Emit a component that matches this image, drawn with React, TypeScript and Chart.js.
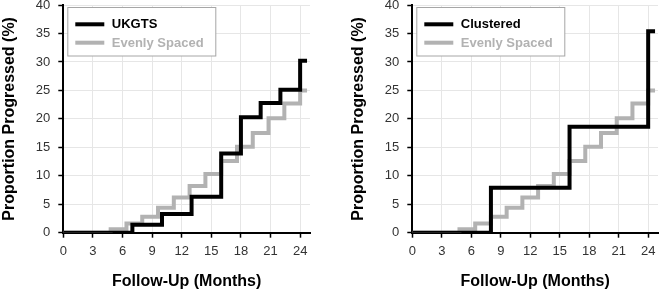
import React, { useEffect, useRef } from "react";
import { Chart, registerables } from "chart.js";

Chart.register(...registerables);

// ---- Data ----
const xTickStep = 3;
const xMax = 25;
const yMax = 40;
const yTickStep = 5;

// Left panel: UKGTS schedule (time in months, cumulative % progressed)
const ukgtsTimes = [0, 7, 10, 13, 16, 18, 20, 22, 24, 24.7];
const ukgtsValues = [0, 1.4, 3.3, 6.3, 13.9, 20.3, 22.8, 25.1, 30.2, 30.2];

// Right panel: Clustered schedule
const clusteredTimes = [0, 8, 16, 24, 24.7];
const clusteredValues = [0, 7.9, 18.6, 35.4, 35.4];

// Both panels: Evenly spaced schedule
const evenTimes = [0, 4.8, 6.4, 8.0, 9.6, 11.2, 12.8, 14.4, 16.0, 17.6, 19.2, 20.8, 22.4, 24.0, 24.7];
const evenValues = [0, 0.6, 1.6, 2.8, 4.4, 6.2, 8.2, 10.3, 12.6, 15.1, 17.5, 20.1, 22.7, 25.0, 25.0];

const xTitle = "Follow-Up (Months)";
const yTitle = "Proportion Progressed (%)";

const BLACK = "#000000";
const GREY = "#b2b2b2";
const FONT = "'Liberation Sans', Arial, Helvetica, sans-serif";

function toPoints(xs: number[], ys: number[]) {
  return xs.map((x, i) => ({ x, y: ys[i] }));
}

const boxLegend = {
  id: "boxLegend",
  afterDraw(chart: any) {
    const ctx = chart.ctx;
    const area = chart.chartArea;
    const x0 = area.left + 4.5;
    const y0 = 7.5;
    const w = 148;
    const h = 48.5;
    ctx.save();
    ctx.fillStyle = "#ffffff";
    ctx.fillRect(x0, y0, w, h);
    ctx.strokeStyle = "#a6a6a6";
    ctx.lineWidth = 1;
    ctx.strokeRect(x0, y0, w, h);
    const rows = chart.data.datasets;
    rows.forEach((ds: any, i: number) => {
      const cy = 24.3 + i * 18.4;
      ctx.beginPath();
      ctx.strokeStyle = ds.borderColor;
      ctx.lineWidth = 4;
      ctx.lineCap = "butt";
      ctx.moveTo(x0 + 7.5, cy);
      ctx.lineTo(x0 + 36.5, cy);
      ctx.stroke();
      ctx.fillStyle = ds.borderColor;
      ctx.font = `bold 13px ${FONT}`;
      ctx.textBaseline = "middle";
      ctx.textAlign = "left";
      ctx.fillText(ds.label, x0 + 44, cy + 0.5);
    });
    ctx.restore();
  },
};

function makeConfig(mainLabel: string, mainX: number[], mainY: number[], padRight: number): any {
  return {
    type: "line",
    data: {
      datasets: [
        {
          label: mainLabel,
          data: toPoints(mainX, mainY),
          borderColor: BLACK,
          borderWidth: 4,
          stepped: true,
          pointRadius: 0,
          fill: false,
          borderJoinStyle: "miter",
          borderCapStyle: "butt",
        },
        {
          label: "Evenly Spaced",
          data: toPoints(evenTimes, evenValues),
          borderColor: GREY,
          borderWidth: 4,
          stepped: true,
          pointRadius: 0,
          fill: false,
          borderJoinStyle: "miter",
          borderCapStyle: "butt",
        },
      ],
    },
    options: {
      responsive: false,
      animation: false,
      devicePixelRatio: 1,
      layout: { padding: { top: 5, right: padRight, left: 0, bottom: 0 } },
      plugins: {
        legend: { display: false },
        tooltip: { enabled: false },
      },
      scales: {
        x: {
          type: "linear",
          min: 0,
          max: xMax,
          afterFit: (s: any) => {
            s.height = 58.3;
            s.paddingLeft = 0;
            s.paddingRight = 0;
          },
          ticks: {
            stepSize: xTickStep,
            includeBounds: false,
            color: "#333333",
            font: { family: FONT, size: 13 },
            padding: 6,
            maxRotation: 0,
          },
          grid: {
            color: "#e6e6e6",
            lineWidth: 1,
            tickColor: BLACK,
            tickLength: 5,
            tickWidth: 1.5,
          },
          border: { color: BLACK, width: 2 },
          title: {
            display: true,
            text: xTitle,
            color: BLACK,
            font: { family: FONT, size: 16, weight: "bold" },
            padding: { top: 0, bottom: 0 },
          },
        },
        y: {
          type: "linear",
          min: 0,
          max: yMax,
          afterFit: (s: any) => {
            s.width = 63.3;
            s.paddingTop = 0;
            s.paddingBottom = 0;
          },
          ticks: {
            stepSize: yTickStep,
            color: "#333333",
            font: { family: FONT, size: 13 },
            padding: 8,
          },
          grid: {
            color: "#e6e6e6",
            lineWidth: 1,
            tickColor: BLACK,
            tickLength: 5,
            tickWidth: 1.5,
          },
          border: { color: BLACK, width: 2 },
          title: {
            display: true,
            text: yTitle,
            color: BLACK,
            font: { family: FONT, size: 16, weight: "bold" },
            padding: { top: 0, bottom: 0 },
          },
        },
      },
    },
    plugins: [boxLegend],
  };
}

function Panel(props: { config: any; left: number; width: number }) {
  const ref = useRef<HTMLCanvasElement | null>(null);
  useEffect(() => {
    if (!ref.current) return;
    const chart = new Chart(ref.current, props.config);
    return () => chart.destroy();
  }, []);
  return (
    <canvas
      ref={ref}
      width={props.width}
      height={291}
      style={{ position: "absolute", left: props.left, top: 0, width: props.width, height: 291 }}
    />
  );
}

export default function App() {
  return (
    <div style={{ position: "absolute", left: 0, top: 0, width: 660, height: 291, background: "#fff" }}>
      <Panel config={makeConfig("UKGTS", ukgtsTimes, ukgtsValues, 10)} left={0} width={320} />
      <Panel config={makeConfig("Clustered", clusteredTimes, clusteredValues, 2)} left={349} width={311} />
    </div>
  );
}
